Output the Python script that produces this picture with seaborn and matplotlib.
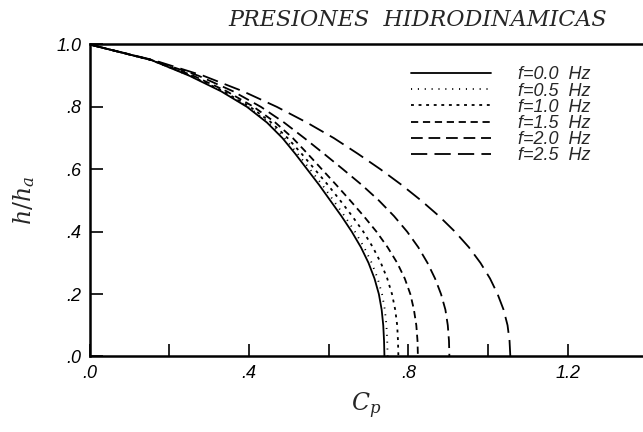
import matplotlib
matplotlib.use("Agg")
import matplotlib.pyplot as plt
import seaborn as sns
import pandas as pd
from matplotlib.lines import Line2D

# Relative height levels h/ha
h_levels = [1.0, 0.95, 0.9, 0.85, 0.8, 0.75, 0.7, 0.65, 0.6, 0.55, 0.5,
            0.45, 0.4, 0.35, 0.3, 0.25, 0.2, 0.15, 0.1, 0.05, 0.0]

# Pressure coefficient Cp for each excitation frequency
cp_f00 = [0.0, 0.155, 0.250, 0.330, 0.395, 0.445, 0.484, 0.516, 0.546, 0.576, 0.604,
          0.632, 0.658, 0.681, 0.700, 0.715, 0.726, 0.733, 0.737, 0.739, 0.740]
cp_f05 = [0.0, 0.155, 0.251, 0.332, 0.398, 0.449, 0.489, 0.522, 0.553, 0.584, 0.612,
          0.640, 0.666, 0.689, 0.708, 0.723, 0.734, 0.741, 0.745, 0.747, 0.748]
cp_f10 = [0.0, 0.155, 0.254, 0.336, 0.403, 0.456, 0.497, 0.532, 0.565, 0.598, 0.629,
          0.659, 0.687, 0.711, 0.731, 0.747, 0.759, 0.767, 0.772, 0.774, 0.775]
cp_f15 = [0.0, 0.156, 0.260, 0.344, 0.412, 0.466, 0.510, 0.547, 0.583, 0.619, 0.654,
          0.688, 0.720, 0.748, 0.772, 0.791, 0.805, 0.814, 0.820, 0.823, 0.824]
cp_f20 = [0.0, 0.157, 0.273, 0.360, 0.430, 0.488, 0.539, 0.588, 0.636, 0.683, 0.726,
          0.764, 0.797, 0.825, 0.848, 0.867, 0.882, 0.893, 0.899, 0.902, 0.903]
cp_f25 = [0.0, 0.160, 0.285, 0.385, 0.470, 0.545, 0.613, 0.673, 0.730, 0.783, 0.832,
          0.877, 0.917, 0.952, 0.981, 1.005, 1.024, 1.039, 1.049, 1.054, 1.056]

labels = ["f=0.0  Hz", "f=0.5  Hz", "f=1.0  Hz", "f=1.5  Hz", "f=2.0  Hz", "f=2.5  Hz"]
series = [cp_f00, cp_f05, cp_f10, cp_f15, cp_f20, cp_f25]

x_ticks = [0.0, 0.2, 0.4, 0.6, 0.8, 1.0, 1.2]
x_tick_labels = [".0", "", ".4", "", ".8", "", "1.2"]
y_ticks = [0.0, 0.2, 0.4, 0.6, 0.8, 1.0]
y_tick_labels = [".0", ".2", ".4", ".6", ".8", "1.0"]

rows = []
for lab, cps in zip(labels, series):
    for cp, h in zip(cps, h_levels):
        rows.append({"Cp": cp, "h": h, "freq": lab})
df = pd.DataFrame(rows)

dash_styles = {
    labels[0]: "",
    labels[1]: (0.6, 3.2),
    labels[2]: (1.6, 2.6),
    labels[3]: (4.0, 2.6),
    labels[4]: (6.5, 3.2),
    labels[5]: (9.0, 4.0),
}

sns.set_theme(style="white")
plt.rcParams["font.family"] = ["Liberation Sans", "DejaVu Sans"]
plt.rcParams["mathtext.fontset"] = "dejavuserif"

fig = plt.figure(figsize=(6.43, 4.32), dpi=100)
ax = fig.add_axes([0.1394, 0.1748, 0.8606, 0.7222])

sns.lineplot(data=df, x="Cp", y="h", hue="freq", style="freq",
             palette=["black"] * 6, dashes=dash_styles, sort=False,
             estimator=None, units="freq", linewidth=1.3, legend=False, ax=ax)

ax.set_xlim(0, 1.389)
ax.set_ylim(0, 1.0)

ax.set_xticks(x_ticks)
ax.set_xticklabels(x_tick_labels)
ax.set_yticks(y_ticks)
ax.set_yticklabels(y_tick_labels)
ax.tick_params(direction="in", length=9, width=1.2, colors="black",
               labelsize=13, pad=6, bottom=True, left=True, top=False, right=False)
for t in ax.get_xticklabels() + ax.get_yticklabels():
    t.set_fontstyle("italic")

for side in ["left", "bottom", "top"]:
    ax.spines[side].set_visible(True)
    ax.spines[side].set_color("black")
    ax.spines[side].set_linewidth(1.8)
ax.spines["right"].set_visible(False)

ax.set_xlabel("$C_p$", fontsize=17, labelpad=6)
ax.set_ylabel("$h/h_a$", fontsize=17, labelpad=14)

fig.text(0.65, 0.953, "PRESIONES  HIDRODINAMICAS", ha="center", va="center",
         fontsize=16, fontstyle="italic", family=["DejaVu Serif"])

handles = [Line2D([0], [0], color="black", lw=1.3,
                  linestyle=("-" if dash_styles[l] == "" else (0, dash_styles[l])))
           for l in labels]
leg = ax.legend(handles, labels, loc="upper left", bbox_to_anchor=(0.581, 0.93),
                frameon=False, borderpad=0, borderaxespad=0,
                handlelength=4.4, handletextpad=1.5,
                labelspacing=-0.045, prop={"style": "italic", "size": 13})

fig.savefig("out.png", dpi=100)
